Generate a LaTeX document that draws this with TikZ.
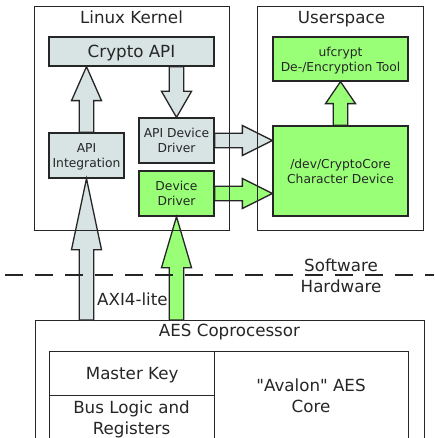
\documentclass[tikz,border=0pt]{standalone}
\usepackage{fontspec}
\setmainfont{DejaVu Sans}[Ligatures=TeXOff]
\usetikzlibrary{calc}
\definecolor{grayc}{HTML}{D8E3E3}
\definecolor{greenc}{HTML}{99FF77}
\definecolor{linec}{HTML}{262626}
\newcommand\fatarrow[4]{%
  \filldraw[fatarr,#1] let \p1=#2, \p2=#3, \n1={atan2(\y2-\y1,\x2-\x1)},
    \p3=($#3!#4pt!#2$) in
    ($(\p1)+(\n1+90:7.25pt)$) -- ($(\p3)+(\n1+90:7.25pt)$) -- ($(\p3)+(\n1+90:15pt)$)
    -- (\p2) -- ($(\p3)+(\n1-90:15pt)$) -- ($(\p3)+(\n1-90:7.25pt)$)
    -- ($(\p1)+(\n1-90:7.25pt)$) -- cycle;}
\begin{document}
\begin{tikzpicture}[x=1pt,y=-1pt,line width=1.3pt,
  box/.style={draw=linec,rectangle,inner sep=0pt,align=center,text depth=0pt},
  txt/.style={inner sep=0pt,align=center,text depth=0pt,text=linec},
  big/.style={font=\fontsize{16.7}{20.5}\selectfont},
  small/.style={font=\fontsize{12.3}{15}\selectfont},
  fatarr/.style={draw=linec,line join=miter,line width=1.3pt}]
\useasboundingbox (0,0) rectangle (434,438);
\fill[white] (0,0) rectangle (434,438);
% containers (positions only; borders drawn after the arrows)
\node[inner sep=0pt,minimum width=194pt,minimum height=223pt] (kernel) at (132,118.5) {};
\node[txt,big] (kerneltitle) at (131.5,17) {Linux Kernel};
\node[inner sep=0pt,minimum width=165pt,minimum height=223pt] (user) at (340.5,118.5) {};
\node[txt,big] (usertitle) at (341.5,17) {Userspace};
\node[box,anchor=north west,minimum width=389pt,minimum height=140pt] (aes) at (35,320) {};
\node[txt,big] (aestitle) at (229.5,330) {AES Coprocessor};
% kernel blocks
\node[box,big,fill=grayc,text=linec,minimum width=165pt,minimum height=29pt] (crypto) at (131.5,51.5) {Crypto API};
\node[box,small,fill=grayc,text=linec,minimum width=75pt,minimum height=45pt] (apiint) at (86.5,155.5) {API\\Integration};
\node[box,small,fill=grayc,text=linec,minimum width=75pt,minimum height=45pt] (apidd) at (176.5,140.5) {API Device\\Driver};
\node[box,small,fill=greenc,text=linec,minimum width=75pt,minimum height=45pt] (dd) at (176.5,193.5) {Device\\Driver};
% userspace blocks
\node[box,small,fill=greenc,text=linec,minimum width=135pt,minimum height=44pt] (uf) at (340.5,59) {ufcrypt\\De-/Encryption Tool};
\node[box,small,fill=greenc,text=linec,minimum width=135pt,minimum height=90pt] (dev) at (340.5,171) {/dev/CryptoCore\\Character Device};
% hardware cells
\node[box,big,text=linec,anchor=north west,minimum width=165pt,minimum height=44pt] (mkey) at (49,351) {Master Key};
\node[box,anchor=north west,minimum width=165pt,minimum height=70pt] (bus) at (49,395) {};
\node[txt,big] (bustext) at (131.5,417.5) {Bus Logic and\\Registers};
\node[box,anchor=north west,minimum width=194pt,minimum height=114pt] (core) at (214,351) {};
\node[txt,big] (coretext) at (311,395.5) {"Avalon" AES\\Core};
% arrows
\fatarrow{fill=grayc}{(apiint.north)}{(crypto.south -| apiint.north)}{34}
\fatarrow{fill=grayc}{(crypto.south -| apidd.north)}{(apidd.north)}{26}
\fatarrow{fill=grayc}{(apidd.east)}{(dev.west |- apidd.east)}{30}
\fatarrow{fill=greenc}{(dd.east)}{(dev.west |- dd.east)}{30}
\fatarrow{fill=greenc}{(uf.south |- dev.north)}{(uf.south)}{22}
\fatarrow{fill=grayc}{(aes.north -| apiint.south)}{(apiint.south)}{71}
\fatarrow{fill=greenc}{(aes.north -| dd.south)}{(dd.south)}{51}
% container borders over the arrows
\draw[draw=linec] (kernel.north west) rectangle (kernel.south east);
\draw[draw=linec] (user.north west) rectangle (user.south east);
% software / hardware divider
\coordinate (dl) at (5,275);
\coordinate (dr) at (434,275);
\draw[draw=linec,dash pattern=on 18pt off 12pt] (dl) -- (dr);
\node[txt,big] (swhw) at (341,275.5) {Software\\Hardware};
\node[txt,big,anchor=west] (axi) at (96.5,299.5) {AXI4-lite};
\end{tikzpicture}
\end{document}
